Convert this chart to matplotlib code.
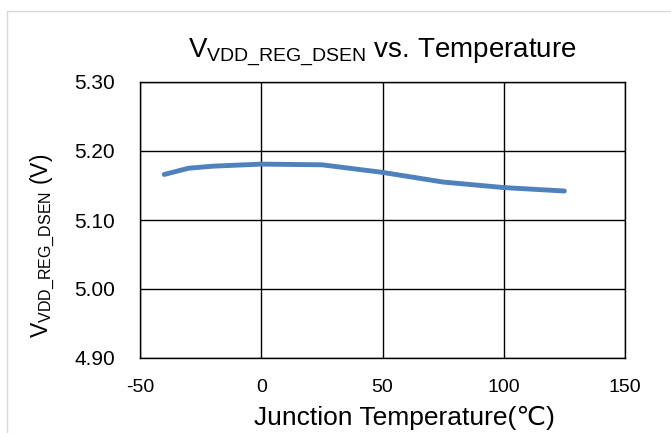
import matplotlib
matplotlib.use("Agg")
import matplotlib.pyplot as plt
from matplotlib.patches import Rectangle

plt.rcParams['font.family'] = ['Liberation Sans', 'DejaVu Sans']
plt.rcParams['mathtext.fontset'] = 'custom'
plt.rcParams['mathtext.rm'] = 'Liberation Sans'
plt.rcParams['mathtext.it'] = 'Liberation Sans'
plt.rcParams['axes.unicode_minus'] = False

temps = [-40, -30, -20, 0, 25, 50, 75, 100, 125]
vreg = [5.166, 5.175, 5.178, 5.181, 5.180, 5.169, 5.155, 5.147, 5.142]
xticks = [-50, 0, 50, 100, 150]
yticks = [4.90, 5.00, 5.10, 5.20, 5.30]

fig = plt.figure(figsize=(6.71, 4.33), dpi=100)
fig.patches.append(Rectangle((7 / 671, -0.1), 1.2, 1 - 11 / 433 + 0.1,
                             transform=fig.transFigure, fill=False,
                             edgecolor='#d9d9d9', linewidth=1))
ax = fig.add_axes([140 / 671, 1 - 358 / 433, 485 / 671, 276 / 433])

ax.plot(temps, vreg, color='#4F81BD', linewidth=3.5, solid_capstyle='round',
        solid_joinstyle='round')

ax.set_xlim(-50, 150)
ax.set_ylim(4.90, 5.30)
ax.set_xticks(xticks)
ax.set_yticks(yticks)
ax.set_yticklabels([f'{v:.2f}' for v in yticks])
ax.tick_params(length=0)
ax.tick_params(axis='x', pad=15, labelsize=14)
ax.tick_params(axis='y', pad=18, labelsize=15)
ax.grid(True, color='black', linewidth=1)
for s in ax.spines.values():
    s.set_color('black')
    s.set_linewidth(1)

ax.set_title(r'V$_{\mathrm{VDD\_REG\_DSEN}}$ vs. Temperature', fontsize=20, pad=18)
ax.set_xlabel('Junction Temperature(℃)', fontsize=19)
ax.set_ylabel(r'V$_{\mathrm{VDD\_REG\_DSEN}}$ (V)', fontsize=16.5)
ax.xaxis.set_label_coords(0.546, -0.172)
ax.yaxis.set_label_coords(-0.171, 0.406)

fig.savefig('out.png', dpi=100)
